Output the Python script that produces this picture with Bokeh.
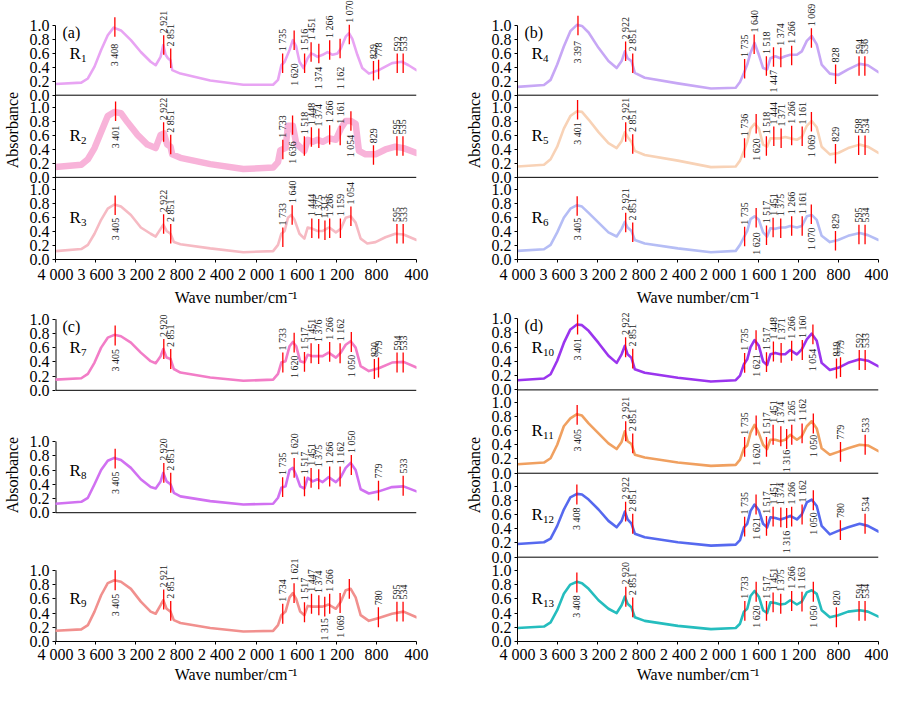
import math
from bokeh.plotting import figure
from bokeh.models import Range1d, FixedTicker, CustomJSTickFormatter, Span
from bokeh.layouts import row, column
from bokeh.core.properties import value
from bokeh.embed import file_html
from bokeh.resources import INLINE

FONT = "Liberation Serif"

X_TICKS = [4000, 3600, 3200, 2800, 2400, 2000, 1600, 1200, 800, 400]
Y_TICKS = [0.0, 0.2, 0.4, 0.6, 0.8, 1.0]

# ---------------- spectra (wave number, absorbance) ----------------
R1_wn = [4000,3743,3677,3611,3545,3479,3420,3347,3248,3149,3051,3001,2952,2925,2902,2879,2853,2836,2754,2457,
         2127,1830,1781,1748,1715,1666,1633,1600,1567,1527,1485,1452,1419,1386,1336,1287,1237,1188,1155,1106,
         1073,1040,990,941,875,776,644,545,479,400]
R1_ab = [0.16,0.18,0.24,0.41,0.65,0.86,0.97,0.93,0.79,0.62,0.48,0.43,0.55,0.72,0.58,0.53,0.50,0.36,0.31,0.21,
         0.15,0.15,0.22,0.43,0.48,0.65,0.79,0.70,0.48,0.39,0.53,0.60,0.58,0.55,0.58,0.62,0.58,0.60,0.67,0.84,
         0.89,0.81,0.58,0.39,0.31,0.36,0.46,0.48,0.43,0.36]

R2_wn = [4000,3743,3677,3611,3545,3479,3413,3347,3281,3182,3084,3001,2952,2919,2886,2853,2836,2754,2457,2127,
         1830,1781,1758,1706,1682,1633,1600,1551,1518,1485,1435,1386,1336,1270,1204,1155,1106,1056,1007,974,
         908,809,710,611,529,400]
R2_ab = [0.15,0.18,0.26,0.42,0.65,0.88,0.94,0.92,0.79,0.61,0.47,0.42,0.61,0.63,0.47,0.44,0.33,0.28,0.19,0.12,
         0.14,0.22,0.39,0.42,0.74,0.74,0.49,0.42,0.38,0.54,0.51,0.54,0.51,0.56,0.54,0.70,0.81,0.81,0.77,0.38,
         0.33,0.33,0.40,0.44,0.42,0.35]

R3_wn = [4000,3743,3677,3611,3545,3479,3413,3347,3248,3149,3051,3001,2952,2925,2892,2853,2820,2754,2457,2127,
         1830,1781,1748,1715,1682,1649,1616,1567,1518,1485,1435,1386,1336,1270,1204,1155,1106,1056,1007,957,
         891,809,710,611,529,400]
R3_ab = [0.12,0.15,0.21,0.37,0.57,0.73,0.79,0.76,0.64,0.46,0.37,0.33,0.44,0.50,0.41,0.37,0.25,0.22,0.16,0.105,
         0.12,0.21,0.37,0.41,0.60,0.64,0.57,0.37,0.30,0.46,0.44,0.41,0.41,0.46,0.39,0.44,0.60,0.62,0.53,0.30,
         0.23,0.25,0.32,0.37,0.36,0.28]

WN_L = [4000,3743,3677,3611,3545,3479,3413,3347,3248,3149,3051,3001,2952,2925,2892,2853,2820,2754,2457,2127,
        1830,1781,1748,1706,1666,1633,1600,1560,1518,1485,1435,1386,1336,1277,1204,1155,1106,1056,1007,957,
        875,776,644,529,400]
R7_ab = [0.15,0.17,0.23,0.39,0.60,0.74,0.78,0.76,0.67,0.53,0.41,0.38,0.48,0.58,0.46,0.44,0.30,0.25,0.18,0.134,
         0.15,0.23,0.39,0.41,0.62,0.68,0.62,0.41,0.39,0.50,0.48,0.48,0.48,0.53,0.46,0.53,0.64,0.69,0.60,0.34,
         0.27,0.31,0.39,0.40,0.32]
R8_ab = [0.126,0.153,0.21,0.40,0.60,0.73,0.77,0.74,0.63,0.47,0.36,0.34,0.44,0.56,0.44,0.40,0.28,0.23,0.163,0.116,
         0.126,0.21,0.35,0.37,0.60,0.63,0.53,0.37,0.34,0.49,0.44,0.47,0.43,0.50,0.43,0.50,0.63,0.70,0.60,0.33,
         0.27,0.30,0.36,0.37,0.30]
R9_ab = [0.15,0.17,0.23,0.42,0.65,0.82,0.86,0.84,0.74,0.56,0.42,0.39,0.51,0.58,0.46,0.42,0.30,0.26,0.19,0.14,
         0.15,0.23,0.37,0.42,0.62,0.68,0.60,0.42,0.37,0.50,0.49,0.49,0.49,0.52,0.46,0.56,0.72,0.74,0.62,0.37,
         0.29,0.33,0.39,0.42,0.34]

WN_R = [4000,3736,3670,3604,3538,3473,3407,3357,3291,3192,3093,3011,2962,2929,2902,2863,2830,2731,2401,2071,
        1824,1781,1742,1709,1676,1636,1593,1551,1511,1478,1429,1379,1330,1280,1214,1165,1115,1066,1016,967,
        885,802,703,588,506,400]
R4_ab = [0.12,0.146,0.22,0.44,0.70,0.92,1.01,0.995,0.90,0.68,0.49,0.39,0.49,0.63,0.53,0.49,0.32,0.25,0.17,0.097,
         0.107,0.19,0.32,0.44,0.61,0.75,0.58,0.39,0.37,0.53,0.56,0.53,0.56,0.58,0.58,0.63,0.78,0.85,0.73,0.44,
         0.31,0.29,0.37,0.45,0.43,0.33]
R5_ab = [0.156,0.18,0.26,0.44,0.70,0.88,0.95,0.94,0.83,0.65,0.49,0.42,0.52,0.65,0.58,0.51,0.38,0.32,0.24,0.147,
         0.156,0.24,0.38,0.51,0.70,0.77,0.70,0.47,0.44,0.56,0.56,0.56,0.58,0.56,0.54,0.58,0.74,0.81,0.72,0.44,
         0.33,0.35,0.42,0.47,0.44,0.35]
R6_ab = [0.124,0.147,0.21,0.39,0.60,0.73,0.78,0.76,0.67,0.53,0.39,0.33,0.44,0.54,0.46,0.41,0.28,0.23,0.16,0.105,
         0.124,0.21,0.32,0.41,0.58,0.62,0.57,0.39,0.33,0.45,0.44,0.46,0.46,0.48,0.46,0.48,0.62,0.64,0.57,0.34,
         0.25,0.28,0.34,0.38,0.35,0.28]
R10_ab = [0.136,0.16,0.22,0.41,0.66,0.85,0.92,0.91,0.83,0.66,0.48,0.38,0.50,0.62,0.50,0.45,0.29,0.24,0.17,0.117,
          0.136,0.20,0.36,0.43,0.60,0.70,0.62,0.40,0.35,0.50,0.52,0.50,0.50,0.56,0.50,0.57,0.71,0.79,0.69,0.38,
          0.28,0.31,0.38,0.43,0.41,0.33]
R11_ab = [0.127,0.15,0.21,0.40,0.66,0.77,0.83,0.81,0.70,0.56,0.42,0.34,0.44,0.59,0.45,0.41,0.26,0.22,0.15,0.103,
          0.117,0.19,0.35,0.39,0.57,0.68,0.56,0.40,0.34,0.47,0.47,0.45,0.47,0.54,0.47,0.52,0.66,0.73,0.63,0.35,
          0.26,0.30,0.35,0.40,0.39,0.31]
R12_ab = [0.186,0.21,0.26,0.44,0.67,0.84,0.89,0.88,0.81,0.67,0.51,0.42,0.51,0.64,0.53,0.47,0.33,0.28,0.21,0.163,
          0.177,0.24,0.42,0.47,0.65,0.74,0.66,0.47,0.42,0.56,0.55,0.53,0.55,0.58,0.53,0.60,0.77,0.81,0.72,0.44,
          0.32,0.37,0.42,0.47,0.44,0.36]
R13_ab = [0.19,0.21,0.27,0.44,0.67,0.80,0.84,0.82,0.74,0.58,0.46,0.40,0.51,0.63,0.53,0.48,0.34,0.29,0.22,0.174,
          0.19,0.25,0.42,0.46,0.64,0.71,0.63,0.44,0.40,0.55,0.54,0.52,0.53,0.58,0.52,0.56,0.69,0.72,0.67,0.44,
          0.34,0.37,0.42,0.44,0.42,0.35]

# ---------------- marked peaks: position, marker bottom, label top (None = label above) ----------------
N = None
R1_pk = [3408,2921,2851,1735,1620,1516,1451,1374,1266,1162,1070,829,778,592,533]
R1_lo = [0.84,0.58,0.39,0.32,0.65,0.32,0.48,0.46,0.51,0.53,0.73,0.21,0.23,0.32,0.32]
R1_bl = [0.74,N,N,N,0.46,N,N,0.41,N,0.41,N,N,N,N,N]

R2_pk = [3401,2922,2851,1733,1636,1518,1448,1374,1266,1161,1054,829,595,535]
R2_lo = [0.81,0.51,0.33,0.26,0.61,0.31,0.44,0.42,0.47,0.46,0.67,0.18,0.31,0.31]
R2_bl = [0.74,N,N,N,0.52,N,N,N,N,N,0.61,N,N,N]

R3_pk = [3405,2922,2851,1733,1640,1444,1375,1313,1266,1159,1054,595,533]
R3_lo = [0.64,0.37,0.23,0.18,0.50,0.31,0.30,0.28,0.31,0.31,0.48,0.23,0.23]
R3_bl = [0.60,N,N,N,N,N,N,N,N,N,N,N,N]

R4_pk = [3397,2922,2851,1735,1640,1518,1447,1374,1266,1069,828,594,536]
R4_lo = [0.86,0.49,0.32,0.24,0.59,0.28,0.41,0.40,0.43,0.68,0.16,0.28,0.28]
R4_bl = [0.78,N,N,N,N,N,0.36,N,N,N,N,N,N]

R5_pk = [3401,2921,2851,1736,1620,1518,1444,1371,1266,1161,1069,829,598,534]
R5_lo = [0.83,0.51,0.34,0.28,0.63,0.31,0.45,0.42,0.46,0.45,0.66,0.20,0.32,0.32]
R5_bl = [0.79,N,N,N,0.56,N,N,N,N,N,0.61,N,N,N]

R6_pk = [3405,2921,2851,1735,1620,1517,1451,1375,1266,1161,1070,829,595,534]
R6_lo = [0.63,0.39,0.25,0.19,0.46,0.21,0.32,0.31,0.34,0.34,0.51,0.13,0.22,0.22]
R6_bl = [0.60,N,N,N,0.39,N,N,N,N,N,0.46,N,N,N]

R7_pk = [3405,2920,2851,1733,1620,1517,1451,1376,1266,1162,1050,820,779,594,533]
R7_lo = [0.63,0.44,0.30,0.25,0.53,0.26,0.38,0.37,0.40,0.38,0.54,0.16,0.18,0.25,0.25]
R7_bl = [0.58,N,N,N,0.49,N,N,N,N,N,0.50,N,N,N,N]

R8_pk = [3405,2920,2851,1735,1620,1517,1451,1375,1266,1162,1050,779,533]
R8_lo = [0.62,0.42,0.28,0.22,0.49,0.23,0.35,0.33,0.37,0.37,0.53,0.17,0.24]
R8_bl = [0.58,N,N,N,N,N,N,N,N,N,N,N,N]

R9_pk = [3405,2921,2851,1734,1621,1517,1447,1374,1315,1266,1162,1070,780,595,534]
R9_lo = [0.72,0.45,0.29,0.25,0.54,0.27,0.39,0.37,0.35,0.39,0.40,0.60,0.20,0.28,0.28]
R9_bl = [0.67,N,N,N,N,N,N,N,0.33,N,0.37,N,N,N,N]
R9_tx = ["3 405","2 921","2 851","1 734","1 621","1 517","1 447","1 374","1 315","1 266","1 069","","780","595","534"]

R10_pk = [3401,2922,2851,1735,1621,1517,1448,1371,1266,1160,1054,819,779,592,533]
R10_lo = [0.78,0.46,0.30,0.24,0.56,0.25,0.40,0.38,0.41,0.42,0.64,0.16,0.18,0.28,0.28]
R10_bl = [0.73,N,N,N,0.50,N,N,N,N,N,0.58,N,N,N,N]

R11_pk = [3405,2921,2851,1735,1620,1517,1451,1374,1316,1265,1162,1050,779,533]
R11_lo = [0.68,0.45,0.28,0.23,0.53,0.23,0.40,0.38,0.34,0.40,0.42,0.56,0.16,0.26]
R11_bl = [0.62,N,N,N,0.42,N,N,N,0.33,N,N,0.54,N,N]

R12_pk = [3408,2922,2851,1735,1621,1517,1451,1374,1316,1266,1162,1050,780,534]
R12_lo = [0.74,0.50,0.33,0.29,0.60,0.30,0.43,0.42,0.41,0.43,0.46,0.66,0.24,0.33]
R12_bl = [0.70,N,N,N,0.56,N,N,N,0.37,N,N,0.63,N,N]

R13_pk = [3408,2920,2851,1733,1620,1517,1451,1375,1266,1163,1050,820,594,534]
R13_lo = [0.69,0.49,0.34,0.29,0.56,0.29,0.41,0.39,0.43,0.42,0.56,0.20,0.29,0.29]
R13_bl = [0.65,N,N,N,0.51,N,N,N,N,N,0.51,N,N,N]

COLORS = {"1": "#E8A4F3", "2": "#F8B3D9", "3": "#F6BAC3", "4": "#C7A7F5", "5": "#F8D2B6",
          "6": "#B5BDF5", "7": "#F27DC7", "8": "#D171F1", "9": "#F1908E", "10": "#9B35EE",
          "11": "#F0A060", "12": "#5669EF", "13": "#25BDBE"}

MARK_LEN = 0.28


def fmt_wn(n):
    s = str(n)
    return s if len(s) <= 3 else s[:-3] + " " + s[-3:]


def spec(num, wn, ab, pk, lo, bl, tx=None, lw=2.6):
    assert len(wn) == len(ab) and len(pk) == len(lo) == len(bl)
    return dict(num=num, wn=wn, ab=ab, pk=pk, lo=lo, bl=bl,
                tx=tx if tx is not None else [fmt_wn(v) for v in pk],
                color=COLORS[num], lw=lw)


SPECS = {
    "1": spec("1", R1_wn, R1_ab, R1_pk, R1_lo, R1_bl),
    "2": spec("2", R2_wn, R2_ab, R2_pk, R2_lo, R2_bl, lw=6.5),
    "3": spec("3", R3_wn, R3_ab, R3_pk, R3_lo, R3_bl),
    "4": spec("4", WN_R, R4_ab, R4_pk, R4_lo, R4_bl),
    "5": spec("5", WN_R, R5_ab, R5_pk, R5_lo, R5_bl),
    "6": spec("6", WN_R, R6_ab, R6_pk, R6_lo, R6_bl),
    "7": spec("7", WN_L, R7_ab, R7_pk, R7_lo, R7_bl),
    "8": spec("8", WN_L, R8_ab, R8_pk, R8_lo, R8_bl),
    "9": spec("9", WN_L, R9_ab, R9_pk, R9_lo, R9_bl, tx=R9_tx),
    "10": spec("10", WN_R, R10_ab, R10_pk, R10_lo, R10_bl),
    "11": spec("11", WN_R, R11_ab, R11_pk, R11_lo, R11_bl),
    "12": spec("12", WN_R, R12_ab, R12_pk, R12_lo, R12_bl),
    "13": spec("13", WN_R, R13_ab, R13_pk, R13_lo, R13_bl),
}

Y_FMT = """
for (const o of offs) { const d = tick - o; if (d > -1e-6 && d < 1.000001) return Math.abs(d).toFixed(1); }
return "";
"""
X_FMT = """
const s = Math.round(tick).toString();
return s.length > 3 ? s.slice(0, s.length - 3) + " " + s.slice(s.length - 3) : s;
"""


def make_panel(tag, nums, offsets, width, height, bl, br, bb, ytop, split_spine, tick_standoff, label_standoff):
    p = figure(width=width, height=height, x_range=Range1d(4000, 400), y_range=Range1d(0, ytop),
               output_backend="svg", toolbar_location=None,
               min_border_left=bl, min_border_right=br, min_border_top=0, min_border_bottom=bb)
    p.outline_line_color = None
    p.grid.visible = False
    p.background_fill_color = "white"

    # axes
    p.xaxis.ticker = FixedTicker(ticks=X_TICKS, minor_ticks=[])
    p.xaxis.formatter = CustomJSTickFormatter(code=X_FMT)
    p.xaxis.axis_label = "Wave number/cm\u207b\u00b9"
    yt = [round(o + t, 5) for o in offsets for t in Y_TICKS]
    p.yaxis.ticker = FixedTicker(ticks=yt, minor_ticks=[])
    p.yaxis.formatter = CustomJSTickFormatter(args=dict(offs=offsets), code=Y_FMT)
    p.yaxis.axis_label = "Absorbance"
    for ax in (p.xaxis[0], p.yaxis[0]):
        ax.axis_label_text_font = FONT
        ax.axis_label_text_font_size = "16px"
        ax.axis_label_text_font_style = "normal"
        ax.axis_label_text_color = "black"
        ax.major_label_text_font = FONT
        ax.major_label_text_font_size = "16px"
        ax.major_label_text_color = "black"
        ax.axis_line_color = "black"
        ax.major_tick_line_color = "black"
        ax.major_tick_out = 3
        ax.major_tick_in = 0
        ax.minor_tick_line_color = None
    p.xaxis.major_label_standoff = tick_standoff
    p.xaxis.axis_label_standoff = label_standoff
    p.yaxis.major_label_standoff = 3
    p.yaxis.axis_label_standoff = 6

    if split_spine:
        p.yaxis.axis_line_color = None
        p.segment(x0=[4000] * len(offsets), y0=offsets, x1=[4000] * len(offsets),
                  y1=[o + 1.0 for o in offsets], line_color="black", line_width=2)
    else:
        p.yaxis.bounds = (0, max(offsets) + 1.0)
    for o in offsets:
        if o > 0:
            p.add_layout(Span(location=o, dimension="width", line_color="black", line_width=1))

    for num, o in zip(nums, offsets):
        s = SPECS[num]
        p.line(s["wn"], [v + o for v in s["ab"]], line_color=s["color"], line_width=s["lw"],
               line_join="round", line_cap="round")
        lo = [v + o for v in s["lo"]]
        hi = [v + MARK_LEN for v in lo]
        p.segment(x0=s["pk"], y0=lo, x1=s["pk"], y1=hi, line_color="#ff0000", line_width=1.3)
        ux, uy, ut, dx, dy, dt = [], [], [], [], [], []
        for x, h, b, t in zip(s["pk"], hi, s["bl"], s["tx"]):
            if b is None:
                ux.append(x); uy.append(h + 0.03); ut.append(t)
            else:
                dx.append(x); dy.append(b + o); dt.append(t)
        common = dict(angle=math.pi / 2, text_baseline="middle", text_font=value(FONT),
                      text_font_size="10px", text_color="#1a1a1a")
        p.text(x=ux, y=uy, text=ut, text_align="left", **common)
        if dx:
            p.text(x=dx, y=dy, text=dt, text_align="right", **common)
        # sample name R with subscript
        p.text(x=[3860], y=[o + 0.6], text=["R"], text_font=value(FONT), text_font_size="17px",
               text_baseline="middle", text_align="left", text_color="black")
        p.text(x=[3860], y=[o + 0.6], text=[num], x_offset=11.5, y_offset=5, text_font=value(FONT),
               text_font_size="11px", text_baseline="middle", text_align="left", text_color="black")

    p.text(x=[3930], y=[offsets[0] + 0.9], text=[tag], text_font=value(FONT), text_font_size="16px",
           text_baseline="middle", text_align="left", text_color="black")
    return p


TOP_OFF = [2.36, 1.18, 0.0]
OFF_C = [3.53, 1.81, 0.0]
OFF_D = [3.536, 2.365, 1.185, 0.0]

pa = make_panel("(a)", ["1", "2", "3"], TOP_OFF, 462, 308, 52, 46, 46, 3.72, False, 3, 3)
pb = make_panel("(b)", ["4", "5", "6"], TOP_OFF, 426, 308, 52, 10, 46, 3.72, False, 3, 3)
pc = make_panel("(c)", ["7", "8", "9"], OFF_C, 462, 377, 52, 46, 40, 4.68, True, 1, 0)
pd = make_panel("(d)", ["10", "11", "12", "13"], OFF_D, 426, 377, 52, 10, 40, 4.68, False, 1, 0)

layout = column(row(pa, pb), row(pc, pd))

with open("out.html", "w") as f:
    f.write(file_html(layout, INLINE))
